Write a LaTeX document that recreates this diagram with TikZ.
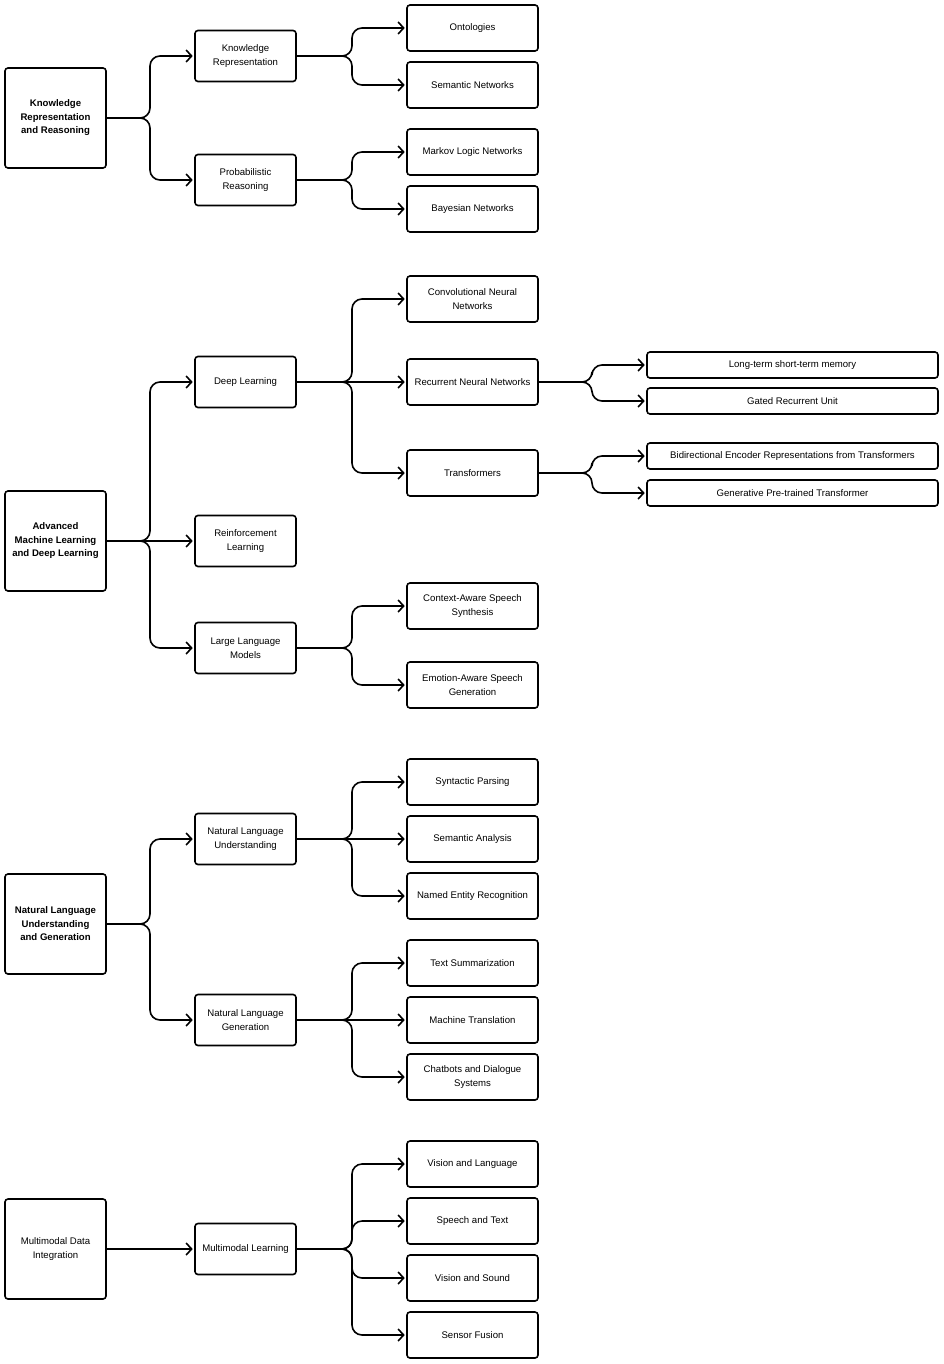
\documentclass[tikz,border=0pt]{standalone}
\usepackage{fontspec}
\setmainfont{Liberation Sans}
\usetikzlibrary{arrows.meta}
\begin{document}
\begin{tikzpicture}[x=1pt,y=-1pt,
 box/.style={draw, line width=1.6pt, rounded corners=3pt, inner sep=0pt, align=center, font=\fontsize{9.6}{13.5}\selectfont},
 rootbox/.style={box, minimum width=101pt, minimum height=100pt},
 midbox/.style={box, minimum width=101pt, minimum height=51pt},
 leafbox/.style={box, minimum width=131pt, minimum height=46pt},
 widebox/.style={box, minimum width=291pt, minimum height=26pt},
 conn/.style={line width=1.6pt, rounded corners=10pt, -{Straight Barb[length=5.5pt,width=12pt,line width=1.6pt]}, shorten >=1.5pt}]
\useasboundingbox (0,0) rectangle (943,1364);

% roots
\node[rootbox, font=\fontsize{9.6}{13.5}\selectfont\bfseries] (krr) at (55.5,118) {Knowledge\\Representation\\and Reasoning};
\node[rootbox, font=\fontsize{9.6}{13.5}\selectfont\bfseries] (aml) at (55.5,541) {Advanced\\Machine Learning\\and Deep Learning};
\node[rootbox, font=\fontsize{9.6}{13.5}\selectfont\bfseries] (nlug) at (55.5,924) {Natural Language\\Understanding\\and Generation};
\node[rootbox] (mdi) at (55.5,1249) {Multimodal Data\\Integration};

% column 2
\node[midbox] (kr) at (245.5,56) {Knowledge\\Representation};
\node[midbox] (pr) at (245.5,180) {Probabilistic\\Reasoning};
\node[midbox] (dl) at (245.5,382) {Deep Learning};
\node[midbox] (rl) at (245.5,541) {Reinforcement\\Learning};
\node[midbox] (llm) at (245.5,648) {Large Language\\Models};
\node[midbox] (nlu) at (245.5,839) {Natural Language\\Understanding};
\node[midbox] (nlg) at (245.5,1020) {Natural Language\\Generation};
\node[midbox] (mml) at (245.5,1249) {Multimodal Learning};

% column 3
\node[leafbox] (ont) at (472.5,28) {Ontologies};
\node[leafbox] (sn) at (472.5,85) {Semantic Networks};
\node[leafbox] (mln) at (472.5,152) {Markov Logic Networks};
\node[leafbox] (bn) at (472.5,209) {Bayesian Networks};
\node[leafbox] (cnn) at (472.5,299) {Convolutional Neural\\Networks};
\node[leafbox] (rnn) at (472.5,382) {Recurrent Neural Networks};
\node[leafbox] (tr) at (472.5,473) {Transformers};
\node[leafbox] (cas) at (472.5,606) {Context-Aware Speech\\Synthesis};
\node[leafbox] (eas) at (472.5,685) {Emotion-Aware Speech\\Generation};
\node[leafbox] (sp) at (472.5,782) {Syntactic Parsing};
\node[leafbox] (sa) at (472.5,839) {Semantic Analysis};
\node[leafbox] (ner) at (472.5,896) {Named Entity Recognition};
\node[leafbox] (ts) at (472.5,963) {Text Summarization};
\node[leafbox] (mt) at (472.5,1020) {Machine Translation};
\node[leafbox] (cds) at (472.5,1077) {Chatbots and Dialogue\\Systems};
\node[leafbox] (vl) at (472.5,1164) {Vision and Language};
\node[leafbox] (st) at (472.5,1221) {Speech and Text};
\node[leafbox] (vs) at (472.5,1278) {Vision and Sound};
\node[leafbox] (sf) at (472.5,1335) {Sensor Fusion};

% column 4
\node[widebox] (lstm) at (792.5,365) {Long-term short-term memory};
\node[widebox] (gru) at (792.5,401) {Gated Recurrent Unit};
\node[widebox] (bert) at (792.5,456) {Bidirectional Encoder Representations from Transformers};
\node[widebox] (gpt) at (792.5,493) {Generative Pre-trained Transformer};

% fork points
\coordinate (f1) at (150,118);
\coordinate (f2) at (150,541);
\coordinate (f3) at (150,924);
\coordinate (g1) at (352,56);
\coordinate (g2) at (352,180);
\coordinate (g3) at (352,382);
\coordinate (g4) at (352,648);
\coordinate (g5) at (352,839);
\coordinate (g6) at (352,1020);
\coordinate (g7) at (352,1249);
\coordinate (h1) at (592,382);
\coordinate (h2) at (592,473);

% connectors
\draw[conn] (krr) -- (f1) |- (kr);
\draw[conn] (krr) -- (f1) |- (pr);
\draw[conn] (kr) -- (g1) |- (ont);
\draw[conn] (kr) -- (g1) |- (sn);
\draw[conn] (pr) -- (g2) |- (mln);
\draw[conn] (pr) -- (g2) |- (bn);

\draw[conn] (aml) -- (f2) |- (dl);
\draw[conn] (aml) -- (rl);
\draw[conn] (aml) -- (f2) |- (llm);
\draw[conn] (dl) -- (g3) |- (cnn);
\draw[conn] (dl) -- (rnn);
\draw[conn] (dl) -- (g3) |- (tr);
\draw[conn] (rnn) -- (h1) |- (lstm);
\draw[conn] (rnn) -- (h1) |- (gru);
\draw[conn] (tr) -- (h2) |- (bert);
\draw[conn] (tr) -- (h2) |- (gpt);
\draw[conn] (llm) -- (g4) |- (cas);
\draw[conn] (llm) -- (g4) |- (eas);

\draw[conn] (nlug) -- (f3) |- (nlu);
\draw[conn] (nlug) -- (f3) |- (nlg);
\draw[conn] (nlu) -- (g5) |- (sp);
\draw[conn] (nlu) -- (sa);
\draw[conn] (nlu) -- (g5) |- (ner);
\draw[conn] (nlg) -- (g6) |- (ts);
\draw[conn] (nlg) -- (mt);
\draw[conn] (nlg) -- (g6) |- (cds);

\draw[conn] (mdi) -- (mml);
\draw[conn] (mml) -- (g7) |- (vl);
\draw[conn] (mml) -- (g7) |- (st);
\draw[conn] (mml) -- (g7) |- (vs);
\draw[conn] (mml) -- (g7) |- (sf);
\end{tikzpicture}
\end{document}
